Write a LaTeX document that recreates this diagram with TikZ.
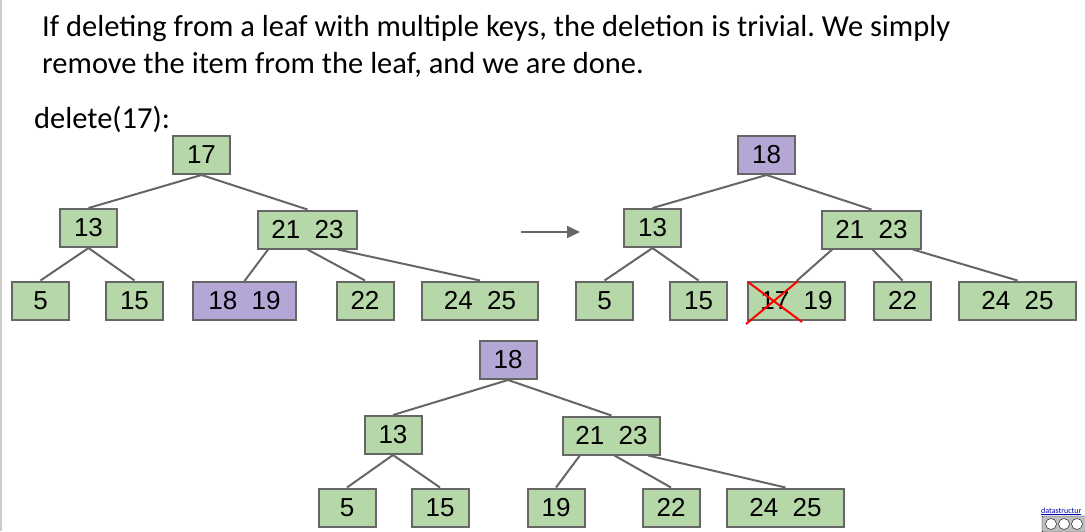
\documentclass[tikz,border=0pt]{standalone}
\usepackage{fontspec}
\setmainfont{Carlito}
\newfontfamily\keyfont{Liberation Sans}
\usetikzlibrary{arrows.meta,calc}
\frenchspacing
\definecolor{keygreen}{HTML}{B6D7A8}
\definecolor{keypurple}{HTML}{B4A7D6}
\definecolor{edgegray}{HTML}{666666}
\tikzset{
	key/.style={draw=edgegray, line width=2pt, fill=keygreen, minimum height=38pt, minimum width=57pt, inner sep=0pt, font=\keyfont\fontsize{26}{26}\selectfont},
	changed/.style={key, fill=keypurple},
	link/.style={draw=edgegray, line width=2pt},
}
\begin{document}
\begin{tikzpicture}[x=1pt, y=-1pt]
		\useasboundingbox (0,0) rectangle (1085,531);
		\draw[gray!40, line width=1.5pt] (1,0) -- (1,531);

		\node[anchor=base west, inner sep=0pt, align=left, font=\fontsize{30.5}{37}\selectfont] (intro) at (42,73) {If deleting from a leaf with multiple keys, the deletion is trivial. We simply\\remove the item from the leaf, and we are done.};
		\node[anchor=base west, inner sep=0pt, font=\fontsize{30.5}{37}\selectfont] (op) at (34,128) {delete(17):};

		% before
		\node[key] (a17) at (201.5,155) {17};
		\node[key] (a13) at (88.5,228) {13};
		\node[key, minimum width=99pt] (a2123) at (307.5,229.5) {21\ \ 23};
		\node[key] (a5) at (40.5,300.5) {5};
		\node[key] (a15) at (134.5,300.5) {15};
		\node[changed, minimum width=103pt] (a1819) at (244.5,301) {18\ \ 19};
		\node[key] (a22) at (365,300.5) {22};
		\node[key, minimum width=116pt] (a2425) at (480,300.5) {24\ \ 25};

		\draw[link] (a17.south) -- (a13.north);
		\draw[link] (a17.south) -- (a2123.north);
		\draw[link] (a13.south) -- (a5.north);
		\draw[link] (a13.south) -- (a15.north);
		\draw[link] ($(a2123.south west)!0.11!(a2123.south east)$) -- (a1819.north);
		\draw[link] ($(a2123.south west)!0.5!(a2123.south east)$) -- (a22.north);
		\draw[link] ($(a2123.south west)!0.8!(a2123.south east)$) -- (a2425.north);

		\coordinate (from) at (521,232);
		\coordinate (to) at (580,232);
		\draw[link, -{Triangle[length=13pt, width=12pt]}] (from) -- (to);

		% after the swap
		\node[changed] (b18) at (766.5,155) {18};
		\node[key] (b13) at (652.5,228) {13};
		\node[key, minimum width=99pt] (b2123) at (871.5,229.5) {21\ \ 23};
		\node[key] (b5) at (604.5,300.5) {5};
		\node[key] (b15) at (698.5,300.5) {15};
		\node[key, minimum width=97pt] (b1719) at (796.5,301) {17\ \ 19};
		\node[key] (b22) at (902.5,300.5) {22};
		\node[key, minimum width=117pt] (b2425) at (1017.5,300.5) {24\ \ 25};

		\draw[link] (b18.south) -- (b13.north);
		\draw[link] (b18.south) -- (b2123.north);
		\draw[link] (b13.south) -- (b5.north);
		\draw[link] (b13.south) -- (b15.north);
		\draw[link] ($(b2123.south west)!0.11!(b2123.south east)$) -- (b1719.north);
		\draw[link] ($(b2123.south west)!0.51!(b2123.south east)$) -- (b22.north);
		\draw[link] ($(b2123.south west)!0.91!(b2123.south east)$) -- (b2425.north);

		\draw[red, line width=2pt] (748,282) -- (802,322);
		\draw[red, line width=2pt] (746,324) -- (798,281);

		% result
		\node[changed] (c18) at (508,360) {18};
		\node[key] (c13) at (393,435) {13};
		\node[key, minimum width=97pt] (c2123) at (611.5,435.5) {21\ \ 23};
		\node[key] (c5) at (347,507.5) {5};
		\node[key] (c15) at (440,507.5) {15};
		\node[key] (c19) at (556,507.5) {19};
		\node[key] (c22) at (671,507.5) {22};
		\node[key, minimum width=117pt] (c2425) at (785.5,507.5) {24\ \ 25};

		\draw[link] (c18.south) -- (c13.north);
		\draw[link] (c18.south) -- (c2123.north);
		\draw[link] (c13.south) -- (c5.north);
		\draw[link] (c13.south) -- (c15.north);
		\draw[link] ($(c2123.south west)!0.18!(c2123.south east)$) -- (c19.north);
		\draw[link] ($(c2123.south west)!0.53!(c2123.south east)$) -- (c22.north);
		\draw[link] ($(c2123.south west)!0.87!(c2123.south east)$) -- (c2425.north);

		\node[anchor=base west, inner sep=0pt, text=blue!70!black, font=\fontsize{8}{8}\selectfont] (src) at (1041,513) {\underline{datastructur}};
		\draw[fill=gray!50, rounded corners=1pt] (1042,516) rectangle (1086,532);
		\foreach \cx in {1051,1064,1077}
			\draw[fill=white] (\cx,524) circle (5.5);
	\end{tikzpicture}
\end{document}
